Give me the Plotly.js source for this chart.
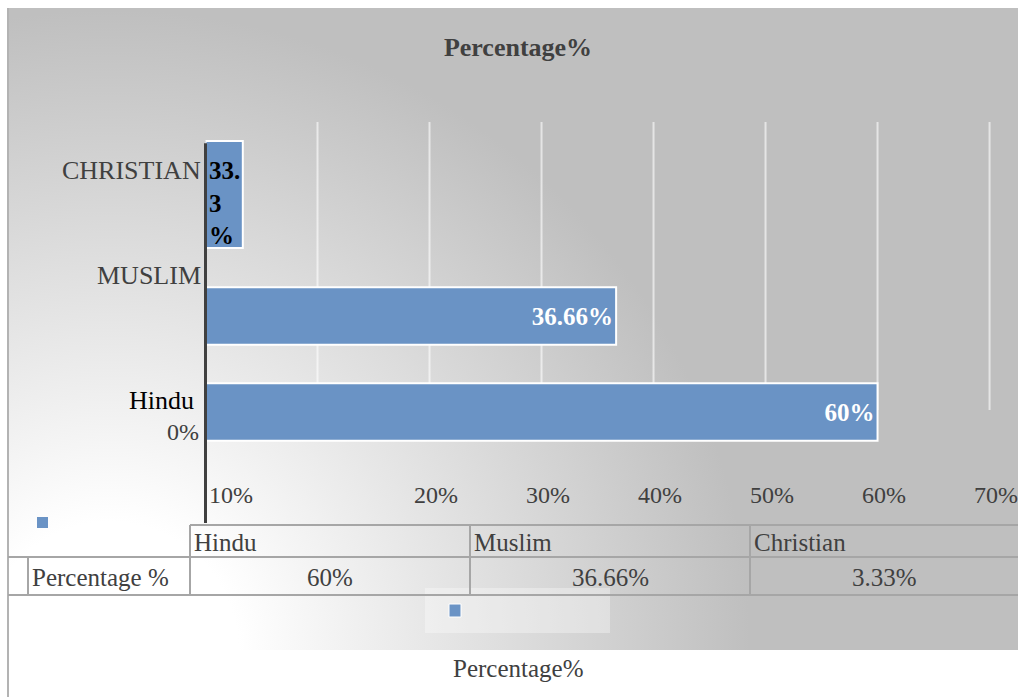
<!DOCTYPE html>
<html>
<head>
<meta charset="utf-8">
<script src="https://cdn.plot.ly/plotly-3.0.1.min.js"></script>
<style>
  html, body { margin: 0; padding: 0; background: #ffffff; }
  #wrap { position: relative; width: 1018px; height: 697px; overflow: hidden; background: #ffffff; }
  #panel {
    position: absolute; left: 8px; top: 8px; width: 1010px; height: 642px;
    background: radial-gradient(circle 640px at 102px 642px, #ffffff 0%, #ffffff 20%, #bfbfbf 100%);
  }
  #edge { position: absolute; left: 7px; top: 8px; width: 2px; height: 689px; background: #b3b3b3; }
  #chart { position: absolute; left: 0; top: 0; width: 1018px; height: 697px; }
</style>
</head>
<body>
<div id="wrap">
  <div id="panel"></div>
  <div id="edge"></div>
  <div id="chart"></div>
</div>
<script>
// Religion share of respondents
const categories = ['Hindu', 'Muslim', 'Christian'];
const axisLabels = ['Hindu', 'MUSLIM', 'CHRISTIAN'];
const percentages = [60, 36.66, 3.33];
const barLabels = ['60%', '36.66%', '33.<br>3<br>%'];
const tickValues = [10, 20, 30, 40, 50, 60, 70];
const tickLabels = ['10%', '20%', '30%', '40%', '50%', '60%', '70%'];
const seriesName = 'Percentage%';
const rowLabel = 'Percentage %';

const W = 1018, H = 697;
const FONT = 'Liberation Serif, Times New Roman, serif';
const TXT = '#404040';
const BLUE = '#6a93c5';
const GRID = '#a6a6a6';
const AXIS_X = 205.5; // pixel position of the value axis origin

// pixel -> paper helpers (margins are zero, so paper == figure)
const X = p => p / W;
const Y = p => 1 - p / H;

// bar geometry along the category axis
const barPos = [0, 1, 2];
const barWidth = [0.6, 0.6, 1.115];
const barOffset = [-0.3, -0.3, -0.292];

const bars = {
  type: 'bar',
  orientation: 'h',
  name: seriesName,
  x: percentages,
  y: barPos,
  width: barWidth,
  offset: barOffset,
  marker: { color: BLUE, line: { color: '#ffffff', width: 2 } },
  text: [barLabels[0], barLabels[1], ''],
  textposition: 'inside',
  insidetextanchor: 'end',
  textangle: 0,
  constraintext: 'none',
  textfont: { family: FONT, size: 25, color: '#ffffff', weight: 'bold' },
  cliponaxis: false,
  hoverinfo: 'skip',
  showlegend: false
};

const shapes = [];
// vertical gridlines
tickValues.forEach(v => shapes.push({
  type: 'line', xref: 'x', yref: 'y', x0: v, x1: v, y0: 0.02, y1: 3.02,
  line: { color: 'rgba(255,255,255,0.6)', width: 2 }, layer: 'below'
}));
// category axis line
shapes.push({
  type: 'line', xref: 'paper', yref: 'y', x0: X(AXIS_X), x1: X(AXIS_X), y0: -1.156, y1: 2.80,
  line: { color: '#404040', width: 3 }, layer: 'above'
});
// legend backdrop and legend keys
shapes.push({
  type: 'rect', xref: 'paper', yref: 'paper', x0: X(425), x1: X(610), y0: Y(633), y1: Y(588),
  fillcolor: 'rgba(255,255,255,0.33)', line: { width: 0 }, layer: 'below'
});
shapes.push({
  type: 'rect', xref: 'paper', yref: 'paper', x0: X(449), x1: X(461), y0: Y(617), y1: Y(604),
  fillcolor: BLUE, line: { color: '#ffffff', width: 1 }, layer: 'above'
});
shapes.push({
  type: 'rect', xref: 'paper', yref: 'paper', x0: X(37), x1: X(48), y0: Y(528), y1: Y(517),
  fillcolor: BLUE, line: { width: 0 }, layer: 'above'
});
// data table grid
const colEdges = [190, 470, 750, 1018];
const hLine = (py, x0, x1) => shapes.push({
  type: 'line', xref: 'paper', yref: 'paper', x0: X(x0), x1: X(x1), y0: Y(py), y1: Y(py),
  line: { color: GRID, width: 2 }, layer: 'below'
});
const vLine = (px, y0, y1) => shapes.push({
  type: 'line', xref: 'paper', yref: 'paper', x0: X(px), x1: X(px), y0: Y(y0), y1: Y(y1),
  line: { color: GRID, width: 2 }, layer: 'below'
});
hLine(525, 190, 1018);
hLine(557, 8, 1018);
hLine(595, 8, 1018);
colEdges.slice(0, 3).forEach(px => vLine(px, 525, 595));
vLine(28, 557, 595);

const annotations = [];
const note = (o) => annotations.push(Object.assign({ showarrow: false }, o));

// category labels
const labelY = [0.115, 1.427, 2.516];
const labelColor = ['#000000', TXT, TXT];
const labelShift = [-10, -3, -3];
axisLabels.forEach((t, i) => note({
  text: t, xref: 'x', yref: 'y', x: 0, y: labelY[i], xanchor: 'right', yanchor: 'middle',
  xshift: labelShift[i], font: { family: FONT, size: 26, color: labelColor[i] }
}));
note({
  text: '0%', xref: 'x', yref: 'y', x: 0, y: -0.203, xanchor: 'right', yanchor: 'middle',
  xshift: -5, font: { family: FONT, size: 24, color: TXT }
});
// value axis labels
tickValues.forEach((v, i) => note({
  text: tickLabels[i], xref: 'x', yref: 'y',
  x: i === 0 ? 0 : v, y: -0.865,
  xanchor: i === 0 ? 'left' : 'center', yanchor: 'middle',
  xshift: i === 0 ? 1 : 6,
  font: { family: FONT, size: 24, color: TXT }
}));
// label of the short bar
note({
  text: '<b>' + barLabels[2] + '</b>', xref: 'x', yref: 'y', x: 0, y: 2.18,
  xanchor: 'left', yanchor: 'middle', align: 'left', xshift: 1,
  font: { family: FONT, size: 25, color: '#000000' }
});
// data table text
categories.forEach((c, i) => {
  note({
    text: c, xref: 'paper', yref: 'paper', x: X(colEdges[i] + 2), y: Y(542),
    xanchor: 'left', yanchor: 'middle', font: { family: FONT, size: 25, color: TXT }
  });
  note({
    text: percentages[i] + '%', xref: 'paper', yref: 'paper',
    x: X((colEdges[i] + colEdges[i + 1]) / 2), y: Y(577),
    xanchor: 'center', yanchor: 'middle', font: { family: FONT, size: 25, color: TXT }
  });
});
note({
  text: rowLabel, xref: 'paper', yref: 'paper', x: X(30), y: Y(577),
  xanchor: 'left', yanchor: 'middle', font: { family: FONT, size: 25, color: TXT }
});
// series name below the legend key
note({
  text: seriesName, xref: 'paper', yref: 'paper', x: X(518), y: Y(668),
  xanchor: 'center', yanchor: 'middle', font: { family: FONT, size: 25, color: TXT }
});

const layout = {
  width: W, height: H,
  margin: { l: 0, r: 0, t: 0, b: 0, pad: 0 },
  paper_bgcolor: 'rgba(0,0,0,0)',
  plot_bgcolor: 'rgba(0,0,0,0)',
  showlegend: false,
  title: {
    text: '<b>' + seriesName + '</b>',
    font: { family: FONT, size: 26, color: TXT },
    xref: 'container', yref: 'container',
    x: 518 / W, xanchor: 'center', y: 1 - 47 / H, yanchor: 'middle'
  },
  xaxis: {
    domain: [AXIS_X / W, 1], range: [0, 72.54],
    showgrid: false, zeroline: false, showticklabels: false, showline: false, fixedrange: true
  },
  yaxis: {
    domain: [1 - 523 / H, 1 - 122 / H], range: [-1.156, 3.021],
    showgrid: false, zeroline: false, showticklabels: false, showline: false, fixedrange: true
  },
  bargap: 0,
  shapes: shapes,
  annotations: annotations
};

Plotly.newPlot('chart', [bars], layout, { staticPlot: true, displayModeBar: false });
</script>
</body>
</html>
